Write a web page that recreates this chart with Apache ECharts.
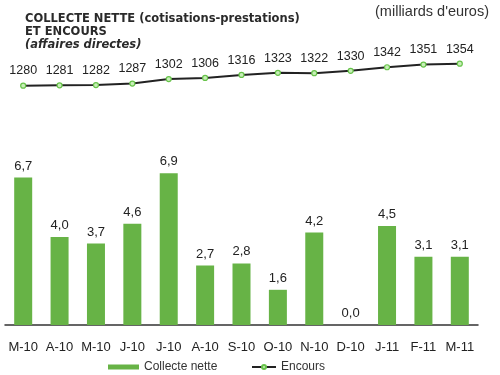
<!DOCTYPE html>
<html>
<head>
<meta charset="utf-8">
<script src="https://cdn.jsdelivr.net/npm/echarts@6/dist/echarts.min.js"></script>
<style>html,body{margin:0;padding:0;background:#fff;}#c{width:500px;height:375px;}</style>
</head>
<body>
<div id="c"></div>
<script>
const categories = ['M-10','A-10','M-10','J-10','J-10','A-10','S-10','O-10','N-10','D-10','J-11','F-11','M-11'];
const collecteNette = [6.7,4.0,3.7,4.6,6.9,2.7,2.8,1.6,4.2,0.0,4.5,3.1,3.1];
const encours = [1280,1281,1282,1287,1302,1306,1316,1323,1322,1330,1342,1351,1354];

const chart = echarts.init(document.getElementById('c'), null, {renderer:'canvas'});
const fmtComma = v => v.toFixed(1).replace('.', ',');
chart.setOption({
  animation: false,
  backgroundColor: '#fff',
  textStyle: {fontFamily: 'Liberation Sans, Arial, sans-serif'},
  title: [
    {text: 'COLLECTE NETTE (cotisations-prestations)\nET ENCOURS', left: 20, top: 8,
     textStyle: {fontSize: 11.5, fontWeight: 'bold', color: '#2a2a2a', lineHeight: 12.5, fontFamily: 'DejaVu Sans'}},
    {text: '(affaires directes)', left: 20, top: 34,
     textStyle: {fontSize: 11.5, fontWeight: 'bold', fontStyle: 'italic', color: '#2a2a2a', fontFamily: 'DejaVu Sans'}},
    {text: "(milliards d'euros)", right: 6, top: -1,
     textStyle: {fontSize: 14.5, fontWeight: 'normal', color: '#333'}}
  ],
  legend: [
    {data: ['Collecte nette'], left: 103, top: 356, itemWidth: 31, itemHeight: 5,
     icon: 'rect', textStyle: {fontSize: 12, color: '#333'}},
    {data: ['Encours'], left: 246, top: 356, itemWidth: 24, itemHeight: 5,
     textStyle: {fontSize: 12, color: '#333'}}
  ],
  grid: [
    {left: 5, right: 22, top: 171, bottom: 50},
    {left: 5, right: 22, top: 50, height: 59.4}
  ],
  xAxis: [
    {type: 'category', gridIndex: 0, data: categories, boundaryGap: true,
     axisLine: {lineStyle: {color: '#333', width: 1.5}},
     axisTick: {inside: true, length: 3, lineStyle: {color: '#333', width: 1.5}},
     axisLabel: {fontSize: 13, color: '#222', margin: 16, interval: 0}},
    {type: 'category', gridIndex: 1, data: categories, boundaryGap: true, show: false}
  ],
  yAxis: [
    {type: 'value', gridIndex: 0, min: 0, max: 7, show: false},
    {type: 'value', gridIndex: 1, min: 1200, max: 1400, show: false}
  ],
  series: [
    {name: 'Collecte nette', type: 'bar', xAxisIndex: 0, yAxisIndex: 0, data: collecteNette,
     barWidth: 18, itemStyle: {color: '#67b346'},
     label: {show: true, position: 'top', distance: 5, fontSize: 13, color: '#222',
             formatter: p => fmtComma(p.value)}},
    {name: 'Encours', type: 'line', xAxisIndex: 1, yAxisIndex: 1, data: encours,
     symbol: 'circle', symbolSize: 5,
     lineStyle: {color: '#222', width: 2},
     itemStyle: {color: '#c8efb8', borderColor: '#67c34a', borderWidth: 1.2},
     label: {show: true, position: 'top', distance: 5, fontSize: 12.5, color: '#222'}}
  ]
});
</script>
</body>
</html>
